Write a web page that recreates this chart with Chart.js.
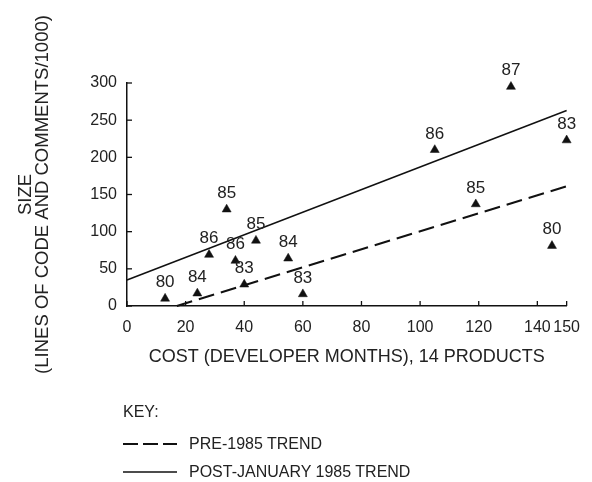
<!DOCTYPE html>
<html>
<head>
<meta charset="utf-8">
<script src="https://cdn.jsdelivr.net/npm/chart.js@4/dist/chart.umd.min.js"></script>
<style>
html,body{margin:0;padding:0;background:#fff;}
#wrap{position:relative;width:592px;height:482px;overflow:hidden;}
#c{position:absolute;left:0;top:0;}
.key{position:absolute;left:123px;font-family:'Liberation Sans',Arial,sans-serif;font-size:16px;color:#222;white-space:nowrap;display:flex;align-items:center;line-height:18px;}
.key svg{margin-right:12px;}
</style>
</head>
<body>
<div id="wrap">
<canvas id="c" width="592" height="482"></canvas>
<div class="key" style="top:403px;">KEY:</div>
<div class="key" style="top:435px;"><svg width="54" height="18"><line x1="0" y1="9" x2="54" y2="9" stroke="#111" stroke-width="2" stroke-dasharray="15,5"/></svg><span>PRE-1985 TREND</span></div>
<div class="key" style="top:463px;"><svg width="54" height="18"><line x1="0" y1="9" x2="54" y2="9" stroke="#111" stroke-width="1.5"/></svg><span>POST-JANUARY 1985 TREND</span></div>
</div>
<script>
// ---- data ----
const costs  = [13, 24, 28, 34, 37, 40, 44, 55, 60, 105, 119, 131, 145, 150];
const sizes  = [10, 17, 69, 130, 61, 29, 88, 64, 16, 210, 137, 295, 81, 223];
const years  = ['80','84','86','85','86','83','85','84','83','86','85','87','80','83'];
const preTrendX  = [17, 150];
const preTrendY  = [0, 161];
const postTrendX = [0, 150];
const postTrendY = [35, 263];
const xTickValues = [0, 20, 40, 60, 80, 100, 120, 140, 150];
const yTickValues = [0, 50, 100, 150, 200, 250, 300];
const xTitle = 'COST (DEVELOPER MONTHS), 14 PRODUCTS';
const yTitle = ['SIZE', '(LINES OF CODE AND COMMENTS/1000)'];

const FONT = "'Liberation Sans', Arial, sans-serif";
const TXT = '#222';
const INK = '#111';

const toXY = (xs, ys) => xs.map((x, i) => ({x: x, y: ys[i]}));

const extras = {
  id: 'extras',
  afterDatasetsDraw(chart) {
    const ctx = chart.ctx;
    const meta = chart.getDatasetMeta(0);
    const xs = chart.scales.x, ys = chart.scales.y, a = chart.chartArea;
    ctx.save();
    // inward tick marks
    ctx.strokeStyle = INK;
    ctx.lineWidth = 1.3;
    xs.ticks.forEach(t => {
      const px = xs.getPixelForValue(t.value);
      ctx.beginPath(); ctx.moveTo(px, a.bottom); ctx.lineTo(px, a.bottom - 5); ctx.stroke();
    });
    ys.ticks.forEach(t => {
      const py = ys.getPixelForValue(t.value);
      ctx.beginPath(); ctx.moveTo(a.left, py); ctx.lineTo(a.left + 5, py); ctx.stroke();
    });
    // year labels above each product
    ctx.font = '17px ' + FONT;
    ctx.fillStyle = TXT;
    ctx.textAlign = 'center';
    ctx.textBaseline = 'middle';
    meta.data.forEach((el, i) => {
      ctx.fillText(years[i], el.x, el.y - 16);
    });
    ctx.restore();
  }
};

new Chart(document.getElementById('c'), {
  type: 'scatter',
  data: {
    datasets: [
      {
        label: 'Products',
        data: toXY(costs, sizes),
        pointStyle: 'triangle',
        pointRadius: 5.2,
        pointHoverRadius: 5.2,
        backgroundColor: INK,
        borderColor: INK,
        borderWidth: 0.5,
        showLine: false,
        clip: false
      },
      {
        label: 'PRE-1985 TREND',
        data: toXY(preTrendX, preTrendY),
        showLine: true,
        borderColor: INK,
        borderWidth: 2,
        borderDash: [16, 7],
        pointRadius: 0,
        clip: false
      },
      {
        label: 'POST-JANUARY 1985 TREND',
        data: toXY(postTrendX, postTrendY),
        showLine: true,
        borderColor: INK,
        borderWidth: 1.5,
        pointRadius: 0,
        clip: false
      }
    ]
  },
  options: {
    responsive: false,
    animation: false,
    devicePixelRatio: 1,
    layout: { padding: { left: 10, right: 23, top: 83, bottom: 114 } },
    plugins: { legend: { display: false }, tooltip: { enabled: false } },
    scales: {
      x: {
        type: 'linear',
        min: 0, max: 150,
        afterBuildTicks: (s) => { s.ticks = xTickValues.map(v => ({ value: v })); },
        afterFit: (s) => { s.height = 62; },
        grid: { display: false, drawTicks: false },
        border: { display: true, color: INK, width: 1.5 },
        ticks: { padding: 12, color: TXT, font: { family: FONT, size: 16 }, maxRotation: 0, autoSkip: false },
        title: { display: true, text: xTitle, color: TXT, font: { family: FONT, size: 18 }, padding: { top: 10, bottom: 0 } }
      },
      y: {
        type: 'linear',
        min: 0, max: 300,
        afterBuildTicks: (s) => { s.ticks = yTickValues.map(v => ({ value: v })); },
        afterFit: (s) => { s.width = 117; },
        grid: { display: false, drawTicks: false },
        border: { display: true, color: INK, width: 1.5 },
        ticks: { padding: 10, color: TXT, font: { family: FONT, size: 16 } },
        title: { display: true, text: yTitle, color: TXT, font: { family: FONT, size: 18.5, lineHeight: 0.9 }, padding: { top: 7.7, bottom: 0 } }
      }
    }
  },
  plugins: [extras]
});
</script>
</body>
</html>
